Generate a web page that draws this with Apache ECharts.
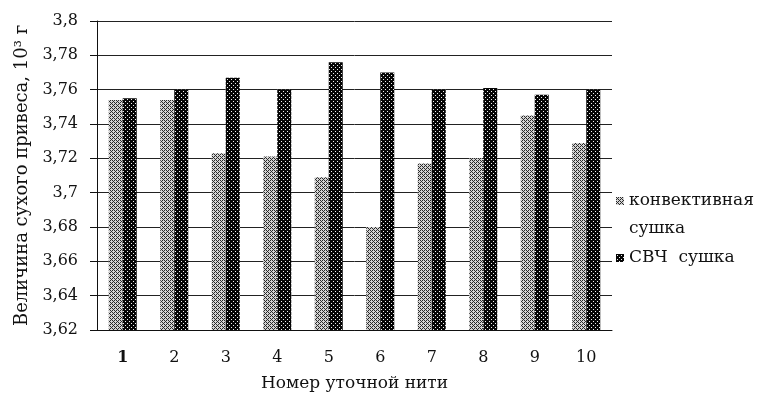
<!DOCTYPE html>
<html>
<head>
<meta charset="utf-8">
<script src="https://cdn.jsdelivr.net/npm/echarts@6/dist/echarts.min.js"></script>
<style>
  html, body { margin: 0; padding: 0; background: #fff; }
  #chart { width: 762px; height: 407px; }
</style>
</head>
<body>
<div id="chart"></div>
<script>
// номера уточных нитей
const threads = ['1','2','3','4','5','6','7','8','9','10'];
// величина сухого привеса, 10^3 г
const convective = [3.754, 3.754, 3.723, 3.721, 3.709, 3.680, 3.717, 3.720, 3.745, 3.729];
const microwave  = [3.755, 3.760, 3.767, 3.760, 3.776, 3.770, 3.760, 3.761, 3.757, 3.760];
const seriesNames = ['конвективная сушка', 'СВЧ  сушка'];

const serif = 'DejaVu Serif';

// штриховка как в исходной диаграмме (Excel-узоры)
function makePattern(bg, fg, dots) {
    const c = document.createElement('canvas');
    c.width = 4; c.height = 4;
    const ctx = c.getContext('2d');
    ctx.fillStyle = bg;
    ctx.fillRect(0, 0, 4, 4);
    ctx.fillStyle = fg;
    dots.forEach(d => ctx.fillRect(d[0], d[1], 1, 1));
    return { image: c, repeat: 'repeat' };
}
const greyPattern = makePattern('#d4d4d4', '#2a2a2a', [[0,0],[2,0],[1,1],[0,2],[2,2],[3,3]]);
const blackPattern = makePattern('#050505', '#f0f0f0', [[1,1],[3,3]]);

const chart = echarts.init(document.getElementById('chart'));
chart.setOption({
    animation: false,
    backgroundColor: '#fff',
    grid: { left: 97, top: 21, right: 150, bottom: 77 },
    legend: {
        orient: 'vertical',
        left: 611,
        top: 154,
        itemWidth: 8,
        itemHeight: 8,
        itemGap: 1,
        icon: 'rect',
        textStyle: { fontFamily: serif, fontSize: 17, color: '#111', lineHeight: 28 },
        data: seriesNames,
        // пустая первая строка, чтобы маркер стоял напротив «конвективная»
        formatter: n => n === seriesNames[0] ? ' \nконвективная\nсушка' : n
    },
    xAxis: {
        type: 'category',
        data: threads,
        name: 'Номер уточной нити',
        nameLocation: 'middle',
        nameGap: 45,
        nameTextStyle: { fontFamily: serif, fontSize: 17, color: '#111' },
        axisLine: { lineStyle: { color: '#111', width: 1 } },
        axisTick: { show: false },
        axisLabel: {
            interval: 0,
            margin: 20,
            fontFamily: serif, fontSize: 16, color: '#111',
            formatter: (v, i) => i === 0 ? '{b|' + v + '}' : v,
            rich: { b: { fontFamily: serif, fontSize: 16, fontWeight: 'bold', color: '#111' } }
        }
    },
    yAxis: {
        type: 'value',
        min: 3.62,
        max: 3.8,
        interval: 0.02,
        name: 'Величина сухого привеса, 10³ г',
        nameLocation: 'middle',
        nameGap: 66,
        nameTextStyle: { fontFamily: serif, fontSize: 18, color: '#111' },
        axisLine: { show: true, lineStyle: { color: '#111', width: 1 } },
        axisTick: { show: true, length: 7, lineStyle: { color: '#111' } },
        axisLabel: {
            margin: 19,
            fontFamily: serif, fontSize: 16, color: '#111',
            formatter: v => String(+v.toFixed(2)).replace('.', ',')
        },
        splitLine: { lineStyle: { color: '#222', width: 1 } }
    },
    series: [
        {
            name: seriesNames[0], type: 'bar', data: convective,
            barWidth: 14, barGap: '0%',
            itemStyle: { color: greyPattern }
        },
        {
            name: seriesNames[1], type: 'bar', data: microwave,
            barWidth: 14,
            itemStyle: { color: blackPattern }
        }
    ]
});
</script>
</body>
</html>
